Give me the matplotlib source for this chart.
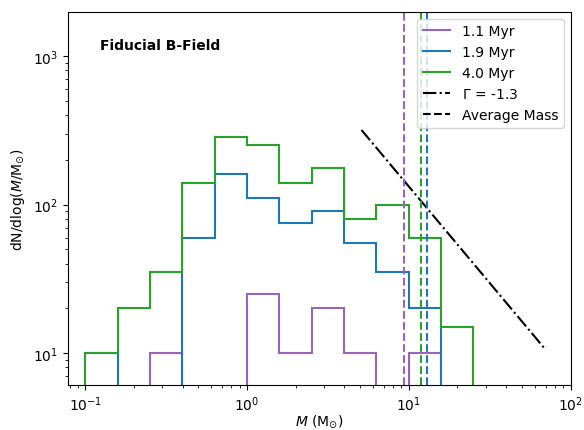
import numpy as np
import matplotlib
matplotlib.use('Agg')
import matplotlib.pyplot as plt

# bin edges (0.2 dex wide) in solar masses
bin_edges = 10 ** np.arange(-1.0, 1.41, 0.2)

# dN/dlog(M) per bin for each snapshot
ages = ['1.1 Myr', '1.9 Myr', '4.0 Myr']
colors = ['#9467bd', '#1f77b4', '#2ca02c']
hist_11 = [0, 0, 10, 0, 0, 25, 10, 20, 10, 0, 10, 0]
hist_19 = [10, 0, 0, 60, 160, 110, 75, 90, 55, 35, 20, 0]
hist_40 = [10, 20, 35, 140, 285, 250, 140, 175, 80, 100, 60, 15]
avg_mass = [9.4, 13.0, 11.9]

# power-law reference line
gamma = -1.3
pl_mass = np.array([5.1, 70.0])
pl_norm = 318.0

plt.rcParams['font.size'] = 10
fig = plt.figure(figsize=(5.84, 4.31), dpi=100)
ax = fig.add_axes([0.116, 0.1045, 0.861, 0.866])

for vals, lab, c in zip([hist_11, hist_19, hist_40], ages, colors):
    ax.stairs(vals, bin_edges, color=c, lw=1.5, label=lab)

ax.plot(pl_mass, pl_norm * (pl_mass / pl_mass[0]) ** gamma, 'k-.', lw=1.5,
        label=r'$\Gamma$ = -1.3')
ax.plot([], [], 'k--', lw=1.5, label='Average Mass')

for m, c in zip(avg_mass, colors):
    ax.axvline(m, color=c, ls='--', lw=1.5)

ax.set_xscale('log')
ax.set_yscale('log')
ax.set_xlim(0.078, 100)
ax.set_ylim(6.1, 1990)
ax.set_xlabel(r'$M$ (M$_{\odot}$)', labelpad=-1)
ax.set_ylabel(r'dN/dlog($M$/M$_{\odot}$)')
ax.text(0.064, 0.911, 'Fiducial B-Field', transform=ax.transAxes,
        fontweight='bold', va='center')
ax.legend(loc='upper right')

fig.savefig('out.png', dpi=100)
